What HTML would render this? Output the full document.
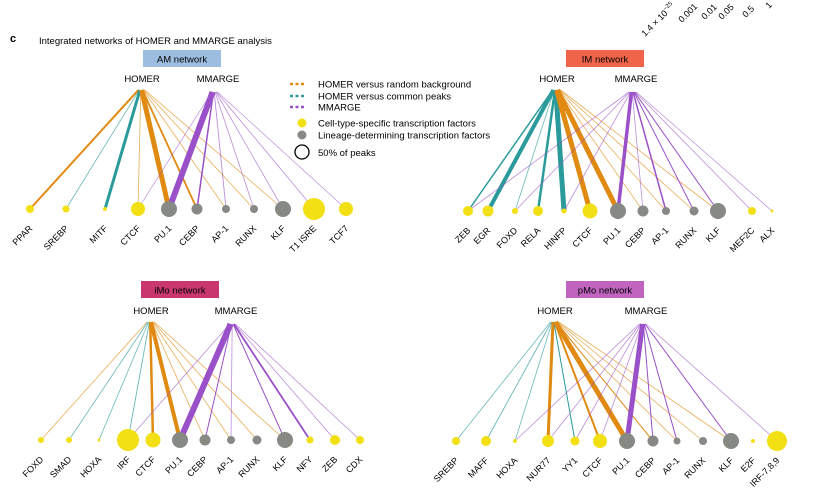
<!DOCTYPE html>
<html><head><meta charset="utf-8"><style>
body{margin:0;background:#fff}
svg{display:block;font-family:"Liberation Sans",sans-serif}
</style></head><body>
<svg id="c" width="829" height="501" viewBox="0 0 829 501">
<text x="10" y="42" font-size="11" font-weight="bold">c</text>
<text x="39" y="44" font-size="9.5">Integrated networks of HOMER and MMARGE analysis</text>
<g font-size="9.5">
 <line x1="290" y1="84" x2="304" y2="84" stroke="#e08a12" stroke-width="2.5" stroke-dasharray="3,2.5"/>
 <text x="318" y="87.5">HOMER versus random background</text>
 <line x1="290" y1="96" x2="304" y2="96" stroke="#2a9a9a" stroke-width="2.5" stroke-dasharray="3,2.5"/>
 <text x="318" y="99.5">HOMER versus common peaks</text>
 <line x1="290" y1="107" x2="304" y2="107" stroke="#9a50c8" stroke-width="2.5" stroke-dasharray="3,2.5"/>
 <text x="318" y="110.5">MMARGE</text>
 <circle cx="302" cy="123" r="4.5" fill="#f2e014"/>
 <text x="318" y="126.5">Cell-type-specific transcription factors</text>
 <circle cx="302" cy="135" r="4.5" fill="#878a84"/>
 <text x="318" y="138.5">Lineage-determining transcription factors</text>
 <circle cx="302" cy="152" r="7" fill="none" stroke="#000" stroke-width="1.3"/>
 <text x="318" y="156">50% of peaks</text>
</g>
<g font-size="9">
 <text transform="translate(645,37) rotate(-45)">1.4 × 10<tspan font-size="6" dy="-4">−25</tspan></text>
 <text transform="translate(682,23) rotate(-45)">0.001</text>
 <text transform="translate(705,20) rotate(-45)">0.01</text>
 <text transform="translate(722,20) rotate(-45)">0.05</text>
 <text transform="translate(746,18) rotate(-45)">0.5</text>
 <text transform="translate(769,9) rotate(-45)">1</text>
</g>
</svg>
<script>
// ---- data ----
const amNames=["PPAR","SREBP","MITF","CTCF","PU.1","CEBP","AP-1","RUNX","KLF","T1 ISRE","TCF7"];
const amSizes=[4,3.5,2,7,8,5.5,4,4,8,11,7];
const amTypes=["y","y","y","y","g","g","g","g","g","y","y"];
const amHomerT=["PPAR","SREBP","MITF","CTCF","PU.1","CEBP","AP-1","RUNX","KLF"];
const amHomerC=["o","t","t","o","o","o","o","o","o"];
const amHomerW=[2,0.8,3,0.8,5,1.8,0.8,0.8,0.8];
const amMmT=["CTCF","PU.1","CEBP","AP-1","RUNX","KLF","T1 ISRE","TCF7"];
const amMmW=[0.7,6,1.5,0.9,0.8,0.8,0.8,0.7];

const imNames=["ZEB","EGR","FOXD","RELA","HINFP","CTCF","PU.1","CEBP","AP-1","RUNX","KLF","MEF2C","ALX"];
const imSizes=[5,5.5,3,5,2.5,7.5,8,5.5,4,4.5,8,4,1.5];
const imTypes=["y","y","y","y","y","y","g","g","g","g","g","y","y"];
const imHomerT=["ZEB","EGR","FOXD","RELA","HINFP","CTCF","PU.1","CEBP","AP-1","RUNX","KLF"];
const imHomerC=["t","t","t","t","t","o","o","o","o","o","o"];
const imHomerW=[1.5,4,0.8,2.5,5,5,5,0.8,0.8,0.8,0.8];
const imMmT=["ZEB","FOXD","HINFP","PU.1","CEBP","AP-1","RUNX","KLF","MEF2C","ALX"];
const imMmW=[0.8,0.8,0.8,3.5,0.8,1.5,1,1,0.8,0.7];

const imoNames=["FOXD","SMAD","HOXA","IRF","CTCF","PU.1","CEBP","AP-1","RUNX","KLF","NFY","ZEB","CDX"];
const imoSizes=[3,3,1.5,11,7.5,8,5.5,4,4.5,8,3.5,5,4];
const imoTypes=["y","y","y","y","y","g","g","g","g","g","y","y","y"];
const imoHomerT=["FOXD","SMAD","HOXA","IRF","CTCF","PU.1","CEBP","AP-1","RUNX","KLF"];
const imoHomerC=["o","t","t","t","o","o","o","o","o","o"];
const imoHomerW=[0.8,0.8,0.8,0.9,2.5,4,0.8,0.8,0.8,0.8];
const imoMmT=["IRF","PU.1","CEBP","AP-1","KLF","NFY","ZEB","CDX"];
const imoMmW=[0.8,6,1,0.8,1,1.8,0.8,0.8];

const pmoNames=["SREBP","MAFF","HOXA","NUR77","YY1","CTCF","PU.1","CEBP","AP-1","RUNX","KLF","E2F","IRF-7,8,9"];
const pmoSizes=[4,5,2,6,4.5,7,8,5.5,3.5,4,8,2,10];
const pmoTypes=["y","y","y","y","y","y","g","g","g","g","g","y","y"];
const pmoHomerT=["SREBP","MAFF","HOXA","NUR77","YY1","CTCF","PU.1","CEBP","AP-1","RUNX","KLF"];
const pmoHomerC=["t","t","t","o","t","o","o","o","o","o","o"];
const pmoHomerW=[0.8,0.9,0.8,3,1,2,5,1,0.8,0.8,0.8];
const pmoMmT=["HOXA","NUR77","YY1","CTCF","PU.1","CEBP","AP-1","KLF","IRF-7,8,9"];
const pmoMmW=[0.8,0.8,0.8,0.8,5,1,1,1,0.8];

// ---- layout ----
const COL={o:"#e08a12",t:"#2a9a9a",p:"#9a50c8",y:"#f2e014",g:"#878a84"};
const svg=document.getElementById('c');
const NS="http://www.w3.org/2000/svg";
function mk(tag,attrs,parent){const e=document.createElementNS(NS,tag);for(const k in attrs)e.setAttribute(k,attrs[k]);(parent||svg).appendChild(e);return e;}

function network(id,title,boxColor,L,names,sizes,types,hT,hC,hW,mT,mW){
  const g=mk('g',{});
  
  
  const b=mk('rect',{x:L.bx,y:L.by,width:78,height:17,fill:boxColor},g);
  
  
  const t=mk('text',{x:L.bx+39,y:L.by+12.5,'font-size':9.5,'text-anchor':'middle'},g);
  t.textContent=title;
  
  
  const h=mk('text',{x:L.hx,y:L.ly,'font-size':9.5,'text-anchor':'middle'},g);
  h.textContent="HOMER";
  
  
  const m=mk('text',{x:L.mx,y:L.ly,'font-size':9.5,'text-anchor':'middle'},g);
  m.textContent="MMARGE";
  
  
  const pos=i=>L.xs[i];
  const oy=L.ly+8;
  hT.forEach((nm,k)=>{
    const i=names.indexOf(nm);
    const e=mk('line',{x1:L.hx+(k-hT.length/2)*0.8,y1:oy,x2:pos(i),y2:L.ny,stroke:COL[hC[k]],'stroke-width':hW[k],'stroke-opacity':hW[k]<1?0.7:1},g);
    
    
  });
  mT.forEach((nm,k)=>{
    const i=names.indexOf(nm);
    const e=mk('line',{x1:L.mx-3+(k-mT.length/2)*0.8,y1:oy+2,x2:pos(i),y2:L.ny,stroke:COL.p,'stroke-width':mW[k],'stroke-opacity':mW[k]<1?0.65:1},g);
    
    
  });
  names.forEach((nm,i)=>{
    const c=mk('circle',{cx:pos(i),cy:L.ny,r:sizes[i],fill:COL[types[i]]},g);
    
    
    const lx=pos(i)+3, ly=L.ny+20;
    const tx=mk('text',{transform:'translate('+lx+','+ly+') rotate(-45)','font-size':9,'text-anchor':'end'},g);
    tx.textContent=nm;
    
    
  });
}
network('am','AM network','#9cbde0',{bx:143,by:50,hx:142,mx:218,ly:82,ny:209,xs:[30,66,105,138,169,197,226,254,283,314,346]},amNames,amSizes,amTypes,amHomerT,amHomerC,amHomerW,amMmT,amMmW);
network('im','IM network','#f0654a',{bx:566,by:50,hx:557,mx:636,ly:82,ny:211,xs:[468,488,515,538,564,590,618,643,666,694,718,752,772]},imNames,imSizes,imTypes,imHomerT,imHomerC,imHomerW,imMmT,imMmW);
network('imo','iMo network','#c8386e',{bx:141,by:281,hx:151,mx:236,ly:314,ny:440,xs:[41,69,99,128,153,180,205,231,257,285,310,335,360]},imoNames,imoSizes,imoTypes,imoHomerT,imoHomerC,imoHomerW,imoMmT,imoMmW);
network('pmo','pMo network','#c064c0',{bx:566,by:281,hx:555,mx:646,ly:314,ny:441,xs:[456,486,515,548,575,600,627,653,677,703,731,753,777]},pmoNames,pmoSizes,pmoTypes,pmoHomerT,pmoHomerC,pmoHomerW,pmoMmT,pmoMmW);
</script>
</body></html>
